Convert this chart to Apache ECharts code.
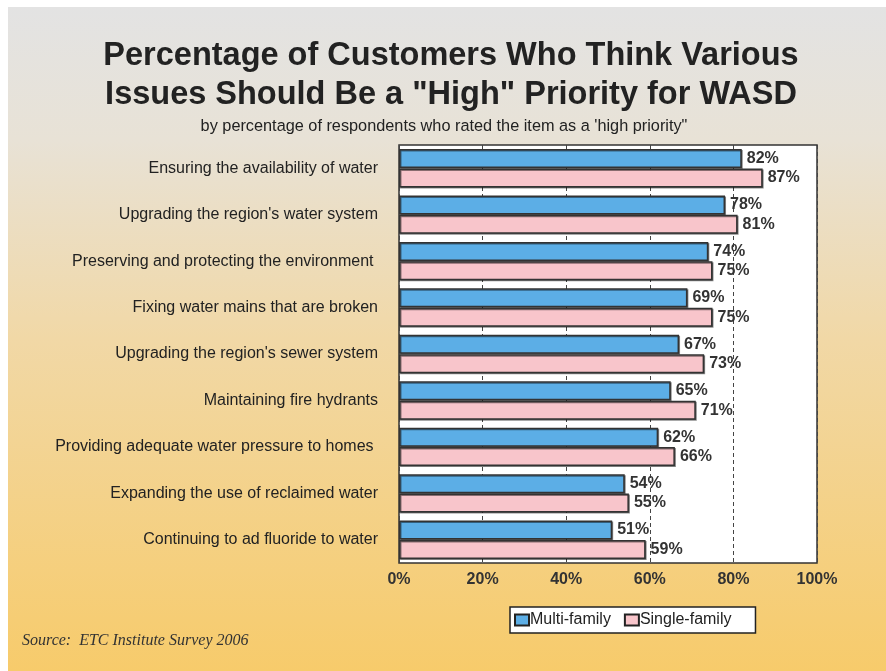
<!DOCTYPE html>
<html>
<head>
<meta charset="utf-8">
<script src="https://cdn.jsdelivr.net/npm/echarts@6/dist/echarts.min.js"></script>
<style>
    html, body { margin: 0; padding: 0; background: #fff; }
    #chart { width: 886px; height: 671px; }
</style>
</head>
<body>
<div id="chart"></div>
<script>
(function () {

    'use strict';

    var issues = [
        'Ensuring the availability of water',
        'Upgrading the region\'s water system',
        'Preserving and protecting the environment ',
        'Fixing water mains that are broken',
        'Upgrading the region\'s sewer system',
        'Maintaining fire hydrants',
        'Providing adequate water pressure to homes ',
        'Expanding the use of reclaimed water',
        'Continuing to ad fluoride to water'
    ];
    var multiFamily = [82, 78, 74, 69, 67, 65, 62, 54, 51];
    var singleFamily = [87, 81, 75, 75, 73, 71, 66, 55, 59];
    var seriesNames = ['Multi-family', 'Single-family'];

    var font = '"Liberation Sans", Arial, sans-serif';

    var chart = echarts.init(document.getElementById('chart'));

    function barSeries(name, data, color) {
        return {
            name: name,
            type: 'bar',
            data: data,
            barWidth: 19,
            barGap: '2%',
            itemStyle: {
                color: color,
                borderColor: '#333',
                borderWidth: 1.5,
                shadowColor: 'rgba(0,0,0,0.45)',
                shadowOffsetX: 1,
                shadowOffsetY: 1
            },
            label: {
                show: true,
                position: 'right',
                distance: 5,
                formatter: '{c}%',
                color: '#333',
                fontFamily: font,
                fontWeight: 'bold',
                fontSize: 16
            }
        };
    }

    var option = {
        animation: false,
        graphic: [{
            type: 'rect',
            z: -10,
            silent: true,
            shape: {x: 8, y: 7, width: 878, height: 664},
            style: {
                fill: new echarts.graphic.LinearGradient(0, 0, 0, 1, [
                    {offset: 0, color: '#e3e3e3'},
                    {offset: 0.2, color: '#e8e2d6'},
                    {offset: 0.5, color: '#f1d8a6'},
                    {offset: 1, color: '#f7cb6b'}
                ])
            }
        }, {
            type: 'text',
            left: 22,
            top: 633,
            style: {
                text: 'Source:  ETC Institute Survey 2006',
                fill: '#333',
                font: 'italic 16px "Liberation Serif", "Times New Roman", serif'
            }
        }],
        title: [{
            text: 'Percentage of Customers Who Think Various\nIssues Should Be a "High" Priority for WASD',
            left: 446,
            textAlign: 'center',
            top: 32,
            textStyle: {
                fontFamily: font,
                fontWeight: 'bold',
                fontSize: 32.5,
                lineHeight: 39,
                color: '#222'
            }
        }, {
            text: 'by percentage of respondents who rated the item as a \'high priority"',
            left: 439,
            textAlign: 'center',
            top: 114,
            textStyle: {
                fontFamily: font,
                fontWeight: 'normal',
                fontSize: 16.3,
                color: '#222'
            }
        }],
        legend: {
            data: seriesNames,
            left: 510,
            top: 607,
            itemWidth: 14,
            itemHeight: 11,
            itemGap: 13,
            padding: [5, 24, 5, 4],
            backgroundColor: '#fff',
            borderColor: '#222',
            borderWidth: 1.5,
            icon: 'rect',
            itemStyle: {
                borderColor: '#222',
                borderWidth: 2,
                shadowBlur: 0,
                shadowOffsetX: 0,
                shadowOffsetY: 0
            },
            textStyle: {
                fontFamily: font,
                fontSize: 16,
                color: '#222',
                padding: [0, 0, 0, -4]
            }
        },
        grid: {
            left: 399,
            top: 145,
            right: 69,
            bottom: 108,
            show: true,
            backgroundColor: '#fff',
            borderColor: '#333',
            borderWidth: 1.5
        },
        xAxis: {
            type: 'value',
            min: 0,
            max: 100,
            interval: 20,
            axisLine: {show: false},
            axisTick: {show: false},
            axisLabel: {
                formatter: '{value}%',
                margin: 9,
                color: '#333',
                fontFamily: font,
                fontWeight: 'bold',
                fontSize: 16
            },
            splitLine: {
                show: true,
                lineStyle: {color: '#444', width: 1, type: [4, 3]}
            }
        },
        yAxis: {
            type: 'category',
            data: issues,
            inverse: true,
            axisLine: {show: false},
            axisTick: {show: false},
            axisLabel: {
                margin: 21,
                color: '#222',
                fontFamily: font,
                fontSize: 16
            }
        },
        series: [
            barSeries(seriesNames[0], multiFamily, '#5caee6'),
            barSeries(seriesNames[1], singleFamily, '#f8c5cb')
        ]
    };

    chart.setOption(option);
}) ();
</script>
</body>
</html>
